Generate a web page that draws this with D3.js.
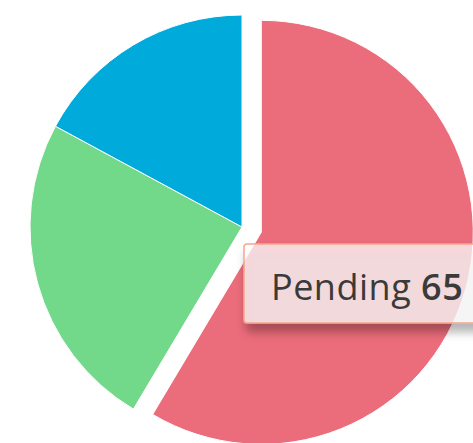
<!DOCTYPE html>
<html>
<head>
<meta charset="utf-8">
<script src="https://cdn.jsdelivr.net/npm/d3@7"></script>
<style>
  body { margin: 0; background: #fff; }
  svg { display: block; font-family: "Open Sans", Lato, sans-serif; }
</style>
</head>
<body>
<div id="chart"></div>
<script>
// slice data
const labels = ["Pending", "Completed", "In Progress"];
const counts = [65, 27, 19];
const sliceColors = ["#eb6c7a", "#72d98b", "#00abdc"];
const hovered = "Pending";

const width = 473, height = 443;
const cx = 242, cy = 227, radius = 212, explode = 20;

const data = labels.map((name, i) => ({ name: name, value: counts[i] }));

const svg = d3.select("#chart")
  .append("svg")
  .attr("width", width)
  .attr("height", height);

// shadow for the tooltip box
const defs = svg.append("defs");
const shadow = defs.append("filter")
  .attr("id", "tip-shadow")
  .attr("x", "-20%").attr("y", "-20%")
  .attr("width", "140%").attr("height", "160%");
shadow.append("feDropShadow")
  .attr("dx", 3).attr("dy", 8)
  .attr("stdDeviation", 5)
  .attr("flood-color", "#000")
  .attr("flood-opacity", 0.4);

const pie = d3.pie().sort(null).value((d) => d.value);
const arc = d3.arc().innerRadius(0).outerRadius(radius);
const color = d3.scaleOrdinal().domain(labels).range(sliceColors);

const arcs = pie(data);

svg.append("g")
  .attr("transform", `translate(${cx},${cy})`)
  .selectAll("path")
  .data(arcs)
  .join("path")
  .attr("d", arc)
  .attr("fill", (d) => color(d.data.name))
  .attr("stroke", "#fff")
  .attr("stroke-width", 1)
  .attr("transform", (d) => {
    if (d.data.name !== hovered) return null;
    const mid = (d.startAngle + d.endAngle) / 2;
    return `translate(${explode * Math.sin(mid)},${-explode * Math.cos(mid)})`;
  });

// tooltip
const hit = data.find((d) => d.name === hovered);
const tip = svg.append("g").attr("transform", "translate(244,244)");
tip.append("rect")
  .attr("width", 250)
  .attr("height", 79)
  .attr("rx", 3)
  .attr("fill", "rgba(255,255,255,0.72)")
  .attr("stroke", "#f4a88e")
  .attr("stroke-width", 1.5)
  .attr("filter", "url(#tip-shadow)");
const tipText = tip.append("text")
  .attr("x", 27)
  .attr("y", 56)
  .attr("fill", "#3a3a3a")
  .style("font-size", "36px")
  .style("letter-spacing", "0.5px");
tipText.append("tspan").text(hit.name + " ");
tipText.append("tspan").attr("font-weight", 600).text(hit.value);
</script>
</body>
</html>
